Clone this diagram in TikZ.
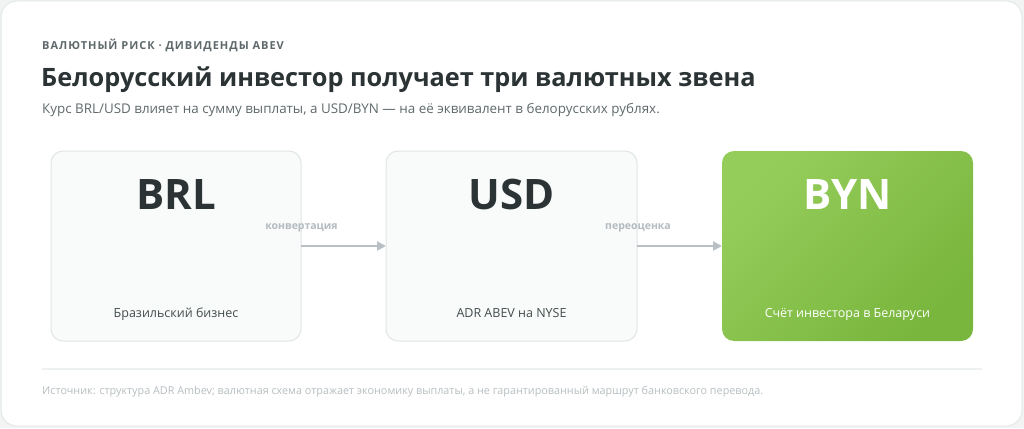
\documentclass[tikz,border=0pt]{standalone}
\usepackage{fontspec}
\setmainfont{Open Sans}
\usetikzlibrary{arrows.meta}
\definecolor{bgout}{HTML}{F2F4F4}
\definecolor{cardborder}{HTML}{E3E8E8}
\definecolor{boxfill}{HTML}{F9FAFA}
\definecolor{boxborder}{HTML}{E0E5E5}
\definecolor{darktext}{HTML}{2B3335}
\definecolor{midtext}{HTML}{5F696B}
\definecolor{subtext}{HTML}{434C4E}
\definecolor{arrowcol}{HTML}{B8C0C6}
\definecolor{labelcol}{HTML}{B3BBC0}
\definecolor{foottext}{HTML}{B7BEC1}
\definecolor{sepcol}{HTML}{EEF1F1}
\definecolor{greenA}{HTML}{95CD5B}
\definecolor{greenB}{HTML}{79B63D}
\tikzset{
  x=1pt,y=-1pt,
  cardbox/.style={draw=boxborder,line width=1pt,fill=boxfill,rounded corners=12pt},
  greenbox/.style={rounded corners=12pt,left color=greenA,right color=greenB,shading angle=45},
  curr/.style={font=\fontsize{42}{46}\selectfont\bfseries,text=darktext,anchor=base},
  currw/.style={curr,text=white},
  sub/.style={font=\fontsize{12.5}{15}\selectfont,text=subtext,anchor=base},
  subw/.style={sub,text=white},
  flow/.style={draw=arrowcol,line width=2pt,-{Triangle[length=9pt,width=9pt]}},
  flowlabel/.style={font=\fontsize{10.5}{12}\selectfont\bfseries,text=labelcol,anchor=base},
}
\begin{document}
\begin{tikzpicture}
\useasboundingbox (0,0) rectangle (1024,428);
\fill[bgout] (0,0) rectangle (1024,428);
\draw[cardborder,fill=white,line width=1pt,rounded corners=16pt] (1,1) rectangle (1022,426);

\node[anchor=base west,inner sep=0,font=\fontsize{11}{12}\selectfont\bfseries\addfontfeature{LetterSpace=9},text=midtext] (kicker) at (42,49) {ВАЛЮТНЫЙ РИСК · ДИВИДЕНДЫ ABEV};
\node[anchor=base west,inner sep=0,font=\fontsize{25.3}{30}\selectfont\bfseries,text=darktext] (title) at (41,86) {Белорусский инвестор получает три валютных звена};
\node[anchor=base west,inner sep=0,font=\fontsize{13.4}{16}\selectfont,text=midtext] (subtitle) at (42,113) {Курс BRL/USD влияет на сумму выплаты, а USD/BYN — на её эквивалент в белорусских рублях.};

% boxes
\path[cardbox] (51,151) rectangle (301,341);
\coordinate (brlR) at (301,246);
\path[cardbox] (386,151) rectangle (637,341);
\coordinate (usdL) at (386,246);
\coordinate (usdR) at (637,246);
\shade[greenbox] (722,151) rectangle (973,341);
\coordinate (bynL) at (722,246);

\node[curr,inner sep=0] (brl) at (176,209) {BRL};
\node[sub,inner sep=0] (brlsub) at (176,317) {Бразильский бизнес};
\node[curr,inner sep=0] (usd) at (511.5,209) {USD};
\node[sub,inner sep=0] (usdsub) at (511.5,317) {ADR ABEV на NYSE};
\node[currw,inner sep=0] (byn) at (847.5,209) {BYN};
\node[subw,inner sep=0] (bynsub) at (847.5,317) {Счёт инвестора в Беларуси};

% arrows
\draw[flow] (brlR) -- (usdL);
\draw[flow] (usdR) -- (bynL);
\node[flowlabel,inner sep=0] (lab1) at (301.5,229) {конвертация};
\node[flowlabel,inner sep=0] (lab2) at (638,229) {переоценка};

% separator and footnote
\draw[sepcol,line width=1.5pt] (42,369) -- (982,369);
\node[anchor=base west,inner sep=0,font=\fontsize{10.8}{12}\selectfont,text=foottext] (foot) at (42,394) {Источник: структура ADR Ambev; валютная схема отражает экономику выплаты, а не гарантированный маршрут банковского перевода.};
\end{tikzpicture}
\end{document}
